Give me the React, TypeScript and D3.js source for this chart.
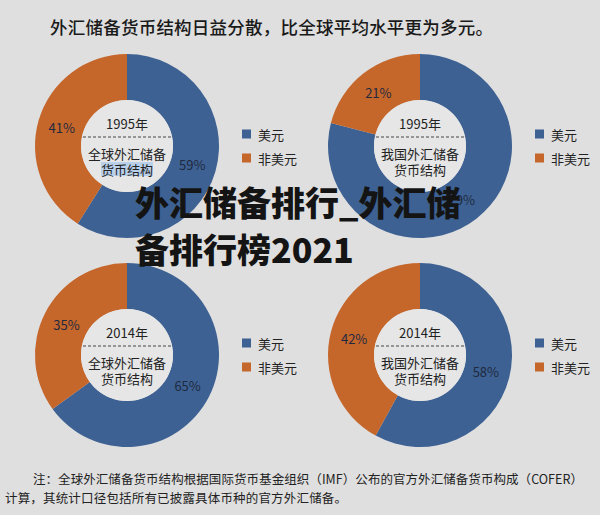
import React from 'react';
import * as d3 from 'd3';

const titleText = '外汇储备货币结构日益分散，比全球平均水平更为多元。';
const categories = ['美元', '非美元'];
const years = ['1995年', '1995年', '2014年', '2014年'];
const scopeLines = [
  ['全球外汇储备', '货币结构'],
  ['我国外汇储备', '货币结构'],
  ['全球外汇储备', '货币结构'],
  ['我国外汇储备', '货币结构'],
];
const usdShare = [59, 79, 65, 58];
const nonUsdShare = [41, 21, 35, 42];
const noteLines = [
  '注：全球外汇储备货币结构根据国际货币基金组织（IMF）公布的官方外汇储备货币构成（COFER）',
  '计算，其统计口径包括所有已披露具体币种的官方外汇储备。',
];
const watermarkLines = ['外汇储备排行_外汇储', '备排行榜2021'];

const W = 600;
const H = 515;
const colors = ['#3d6192', '#c5662b'];
const font = '"Noto Sans CJK SC", "Noto Sans", sans-serif';

export default function App() {
  const colX = d3.scalePoint<number>().domain([0, 1]).range([127, 420]);
  const rowY = d3.scalePoint<number>().domain([0, 1]).range([146, 355]);
  const outerR = 92;
  const innerR = 46;
  const pie = d3.pie<number>().sort(null).startAngle(0).endAngle(2 * Math.PI);
  const arc = d3.arc<d3.PieArcDatum<number>>().innerRadius(innerR).outerRadius(outerR);
  const labelArc = d3.arc<d3.PieArcDatum<number>>().innerRadius(68).outerRadius(68);

  return (
    <svg width={W} height={H} style={{ position: 'absolute', left: 0, top: 0 }} fontFamily={font}>
      <rect width={W} height={H} fill="#dfdfdf" />
      <text x={50} y={34} fontSize={17.5} fill="#1a1a1a" textLength={443} fontWeight={500}>
        {titleText}
      </text>
      {usdShare.map((u, i) => {
        const cx = colX(i % 2)!;
        const cy = rowY(Math.floor(i / 2))!;
        const arcs = pie([u, nonUsdShare[i]]);
        return (
          <g key={i} transform={`translate(${cx},${cy})`}>
            {arcs.map((a, j) => (
              <path key={j} d={arc(a)!} fill={colors[j]} />
            ))}
            <circle r={innerR} fill="#e6e6e6" />
            {arcs.map((a, j) => {
              const [lx, ly] = labelArc.centroid(a);
              return (
                <text key={'l' + j} x={lx} y={ly} fontSize={13} fill="#1f2a3f" textAnchor="middle" dominantBaseline="central">
                  {(j === 0 ? u : nonUsdShare[i]) + '%'}
                </text>
              );
            })}
            <text x={0} y={-23} fontSize={13} fill="#222" textAnchor="middle" dominantBaseline="central">
              {years[i]}
            </text>
            <line x1={-44} x2={44} y1={-9} y2={-9} stroke="#444" strokeWidth={1} strokeDasharray="3,2" />
            {i === 0 && <rect x={-26} y={16} width={52} height={14} fill="#b9d0ea" />}
            <text x={0} y={7} fontSize={13} fill="#222" textAnchor="middle" dominantBaseline="central">
              {scopeLines[i][0]}
            </text>
            <text x={0} y={23} fontSize={13} fill="#222" textAnchor="middle" dominantBaseline="central">
              {scopeLines[i][1]}
            </text>
            {categories.map((c, j) => (
              <g key={'lg' + j} transform={`translate(${115},${-12 + j * 24})`}>
                <rect x={0} y={-4.5} width={9} height={9} fill={colors[j]} />
                <text x={16} y={0} fontSize={13} fill="#222" dominantBaseline="central">
                  {c}
                </text>
              </g>
            ))}
          </g>
        );
      })}
      {noteLines.map((t, i) => (
        <text key={i} x={i === 0 ? 33 : 5} y={478 + i * 19} fontSize={12.5} fill="#222" dominantBaseline="central" textLength={i === 0 ? 550 : 342}>
          {t}
        </text>
      ))}
      {watermarkLines.map((t, i) => (
        <text key={'w' + i} x={135} y={216 + i * 47} fontSize={34} fontWeight={900} fill="#141414">
          {t}
        </text>
      ))}
    </svg>
  );
}
